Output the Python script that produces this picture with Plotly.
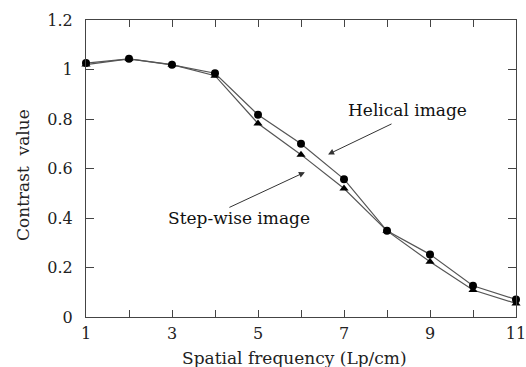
import plotly.graph_objects as go

freq = [1, 2, 3, 4, 5, 6, 7, 8, 9, 10, 11]
helical = [1.026, 1.043, 1.019, 0.985, 0.817, 0.700, 0.557, 0.348, 0.253, 0.126, 0.071]
stepwise = [1.020, 1.043, 1.020, 0.975, 0.782, 0.656, 0.519, 0.348, 0.223, 0.109, 0.055]
x_ticks = [1, 2, 3, 4, 5, 6, 7, 8, 9, 10, 11]
x_ticktext = ["1", "", "3", "", "5", "", "7", "", "9", "", "11"]
y_ticks = [0, 0.2, 0.4, 0.6, 0.8, 1.0, 1.2]
y_ticktext = ["0", "0.2", "0.4", "0.6", "0.8", "1", "1.2"]

font = "DejaVu Serif, Liberation Serif, serif"
line_col = "#555555"

fig = go.Figure()
fig.add_trace(go.Scatter(
    x=freq, y=stepwise, mode="lines+markers", name="Step-wise image",
    line=dict(color=line_col, width=1.2),
    marker=dict(symbol="triangle-up", size=8, color="black"),
    cliponaxis=False))
fig.add_trace(go.Scatter(
    x=freq, y=helical, mode="lines+markers", name="Helical image",
    line=dict(color=line_col, width=1.2),
    marker=dict(symbol="circle", size=8, color="black"),
    cliponaxis=False))

fig.add_annotation(x=6.63, y=0.657, ax=8.14, ay=0.783, xref="x", yref="y",
                   axref="x", ayref="y", text="", showarrow=True,
                   arrowhead=2, arrowsize=1.2, arrowwidth=1, arrowcolor="#333333")
fig.add_annotation(x=6.09, y=0.585, ax=4.30, ay=0.44, xref="x", yref="y",
                   axref="x", ayref="y", text="", showarrow=True,
                   arrowhead=2, arrowsize=1.2, arrowwidth=1, arrowcolor="#333333")
fig.add_annotation(x=8.47, y=0.835, xref="x", yref="y", text="Helical image",
                   showarrow=False, font=dict(family=font, size=17, color="#111111"))
fig.add_annotation(x=4.56, y=0.40, xref="x", yref="y", text="Step-wise image",
                   showarrow=False, font=dict(family=font, size=17, color="#111111"))

# axis titles
fig.add_annotation(x=0.484, y=0, xref="paper", yref="paper", yanchor="middle",
                   yshift=-41, text="Spatial frequency (Lp/cm)", showarrow=False,
                   font=dict(family=font, size=17, color="#222222"))
fig.add_annotation(x=0, y=0.478, xref="paper", yref="paper", xanchor="center",
                   yanchor="middle", xshift=-63, textangle=-90,
                   text="Contrast  value", showarrow=False,
                   font=dict(family=font, size=17, color="#222222"))

fig.update_layout(
    width=526, height=367,
    margin=dict(l=86, r=10, t=20, b=50),
    paper_bgcolor="white", plot_bgcolor="white",
    showlegend=False,
    font=dict(family=font, size=16, color="#222222"),
)
fig.update_xaxes(
    range=[1, 11], tickvals=x_ticks, ticktext=x_ticktext,
    ticks="inside", ticklen=7, tickcolor="#444444", tickwidth=1,
    showline=True, linecolor="#444444", linewidth=1, mirror="ticks",
    showgrid=False, zeroline=False, automargin=False,
    tickfont=dict(family=font, size=16),
    ticklabelstandoff=2, ticklabeloverflow="allow",
)
fig.update_yaxes(
    range=[0, 1.2], tickvals=y_ticks, ticktext=y_ticktext,
    ticks="inside", ticklen=8, tickcolor="#444444", tickwidth=1,
    showline=True, linecolor="#444444", linewidth=1, mirror="ticks",
    showgrid=False, zeroline=False, automargin=False,
    tickfont=dict(family=font, size=16),
    ticklabelstandoff=9, ticklabeloverflow="allow",
)

fig.write_html("out.html")
